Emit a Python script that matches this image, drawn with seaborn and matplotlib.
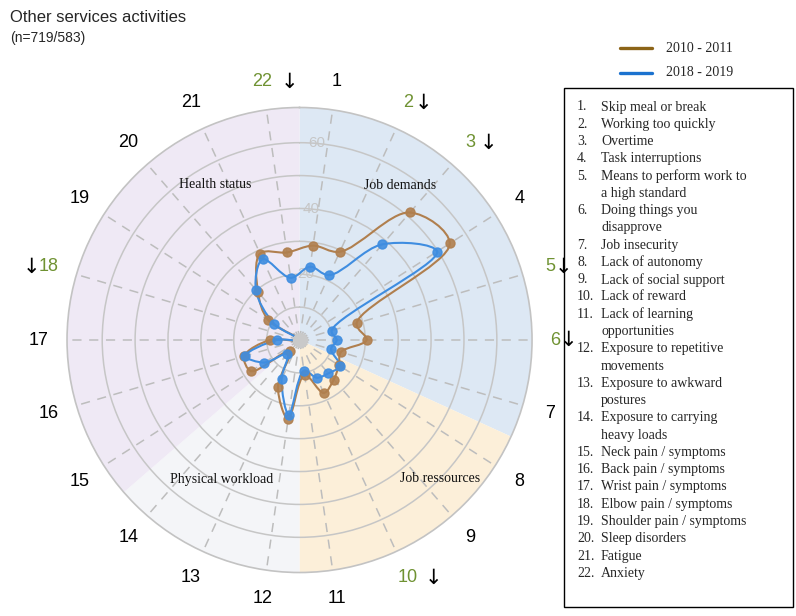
import textwrap
import numpy as np
import pandas as pd
import matplotlib.pyplot as plt
import seaborn as sns
from matplotlib.path import Path
from matplotlib.patches import PathPatch, Rectangle
from matplotlib.lines import Line2D

# ── data ─────────────────────────────────────────────────────
categories = [str(i) for i in range(1, 23)]
wave_2010 = [29.0, 29.5, 51.3, 54.3, 18.1, 20.4, 13.1, 14.2, 15.9, 17.7, 10.8,
             24.3, 15.8, 4.6, 17.5, 17.5, 9.0, 0.0, 11.4, 19.3, 28.9, 26.9]
wave_2018 = [22.5, 21.7, 38.5, 49.7, 10.2, 11.3, 10.0, 14.6, 13.4, 12.6, 9.4,
             23.0, 13.2, 5.7, 12.7, 17.2, 6.9, 0.0, 9.2, 20.3, 27.0, 19.1]
periods = ["2010 - 2011", "2018 - 2019"]
flagged = ["22", "2", "3", "5", "6", "10", "18"]   # significant decrease
item_names = ["Skip meal or break", "Working too quickly", "Overtime",
              "Task interruptions", "Means to perform work to a high standard",
              "Doing things you disapprove", "Job insecurity", "Lack of autonomy",
              "Lack of social support", "Lack of reward",
              "Lack of learning opportunities", "Exposure to repetitive movements",
              "Exposure to awkward postures", "Exposure to carrying heavy loads",
              "Neck pain / symptoms", "Back pain / symptoms", "Wrist pain / symptoms",
              "Elbow pain / symptoms", "Shoulder pain / symptoms", "Sleep disorders",
              "Fatigue", "Anxiety"]
groups = ["Job demands", "Job ressources", "Physical workload", "Health status"]
group_sizes = [7, 4, 3, 8]
rticks = [20, 40, 60]

# ── style ────────────────────────────────────────────────────
RMAX = 70.7
line_cols = {"2010 - 2011": "#b07f4e", "2018 - 2019": "#3f8de0"}
legend_cols = {"2010 - 2011": "#8c6418", "2018 - 2019": "#1b72cf"}
sector_cols = ["#dde8f4", "#fcefd9", "#f4f5f8", "#efe9f5"]
group_pos = {"Job demands": (33, 56.1), "Health status": (331.4, 53.7),
             "Job ressources": (134.5, 59.9), "Physical workload": (209, 48.6)}
# pixel offsets of the green number and of the arrow from the label spot
num_dx = {"6": -5}
arrow_dx = {"22": 27, "2": 15, "3": 18, "5": 13, "6": 8, "10": 25, "18": -18}
GREEN = "#6f9232"
LABEL_R = 79.4

sns.set_theme(style="white")
plt.rcParams["font.family"] = ["Liberation Sans", "DejaVu Sans"]
SERIF = ["Liberation Serif", "DejaVu Serif"]

n = len(categories)
step = 2 * np.pi / n
theta = (np.arange(n) + 0.5) * step

fig = plt.figure(figsize=(7.96, 6.16), dpi=100)
ax = fig.add_axes([0.0842, 0.0706, 0.5842, 0.7549], projection="polar")
ax.set_theta_zero_location("N")
ax.set_theta_direction(-1)
ax.set_ylim(0, RMAX)
ax.set_facecolor("white")
ax.set_axisbelow(True)

# background sectors
start = 0
for g, size, col in zip(groups, group_sizes, sector_cols):
    ax.bar(start * step, RMAX, width=size * step, bottom=0, align="edge",
           color=col, edgecolor="none", zorder=0)
    start += size

ax.set_xticks(theta)
ax.set_xticklabels([])
ax.set_yticks([10, 20, 30, 40, 50, 60])
ax.set_yticklabels([])
ax.xaxis.grid(True, color="#bdbdbd", linestyle=(0, (6, 5)), linewidth=1.1)
ax.yaxis.grid(True, color="#c6c6c6", linestyle="-", linewidth=1.1)
ax.spines["polar"].set_color("#c3c3c3")
ax.spines["polar"].set_linewidth(1.2)


def smooth_closed(th, r, smoothness=1.0):
    # closed spline like plotly's line shape "spline"
    pts = np.column_stack([r * np.sin(th), r * np.cos(th)])
    m = len(pts)
    tan = []
    for i in range(m):
        cur, d1, d2 = pts[i], pts[i - 1] - pts[i], pts[(i + 1) % m] - pts[i]
        a1, a2 = np.hypot(*d1) ** 0.5, np.hypot(*d2) ** 0.5
        num = (a2 * a2 * d1 - a1 * a1 * d2) * smoothness
        den1, den2 = 3 * a2 * (a1 + a2), 3 * a1 * (a1 + a2)
        tan.append((cur + (num / den1 if den1 else 0),
                    cur - (num / den2 if den2 else 0)))
    verts = [pts[0]]
    for i in range(m):
        j = (i + 1) % m
        verts += [tan[i][1], tan[j][0], pts[j]]
    verts = np.array(verts)
    polar = np.column_stack([np.arctan2(verts[:, 0], verts[:, 1]),
                             np.hypot(verts[:, 0], verts[:, 1])])
    codes = [Path.MOVETO] + [Path.CURVE4] * (3 * m)
    return Path(polar, codes)


df = pd.DataFrame({"theta": np.tile(theta, 2),
                   "value": wave_2010 + wave_2018,
                   "period": np.repeat(periods, n)})

for p in periods:
    sub = df[df["period"] == p]
    ax.add_patch(PathPatch(smooth_closed(sub["theta"].values, sub["value"].values),
                           facecolor="none", edgecolor=line_cols[p], lw=1.5, zorder=3))
    sns.scatterplot(data=sub, x="theta", y="value", color=line_cols[p], s=42,
                    edgecolor=line_cols[p], linewidth=1.0, alpha=0.9,
                    ax=ax, legend=False, zorder=4)

ax.scatter([0], [0], s=100, color="#c9c9c9", zorder=6)
ax.set_xlabel("")
ax.set_ylabel("")
ax.set_ylim(0, RMAX)

# radial tick labels
for v in rticks:
    ax.text(np.deg2rad(5), v, str(v), color="#c6c6c6", fontsize=11,
            ha="center", va="center", zorder=2)

# category labels
for c, t in zip(categories, theta):
    if c in flagged:
        ax.annotate(c, xy=(t, LABEL_R), xytext=(num_dx.get(c, 0) * 0.72, 0),
                    textcoords="offset points", color=GREEN, fontsize=13,
                    ha="center", va="center", annotation_clip=False)
        ax.annotate("\u2193", xy=(t, LABEL_R), xytext=(arrow_dx[c] * 0.72, 0),
                    textcoords="offset points", color="black", fontsize=15,
                    family=["DejaVu Sans"], ha="center", va="center",
                    annotation_clip=False)
    else:
        ax.text(t, LABEL_R, c, color="black", fontsize=13, ha="center", va="center",
                clip_on=False)

# group labels
for g in groups:
    ang, rr = group_pos[g]
    ax.text(np.deg2rad(ang), rr, g, family=SERIF, fontsize=10, ha="center",
            va="center", color="#111111", zorder=5)

# titles
W, H = 796, 616
fig.text(10 / W, 1 - 22 / H, "Other services activities", fontsize=12,
         ha="left", va="baseline")
fig.text(10 / W, 1 - 42 / H, "(n=719/583)", fontsize=10, ha="left", va="baseline")

# period legend
for p, yy in zip(periods, [48, 73]):
    fig.add_artist(Line2D([620 / W, 652 / W], [1 - yy / H, 1 - yy / H],
                          color=legend_cols[p], lw=2.4, transform=fig.transFigure))
    fig.text(666 / W, 1 - yy / H, p, family=SERIF, fontsize=10, ha="left",
             va="center")

# item list
fig.add_artist(Rectangle((564 / W, 1 - 607 / H), (793 - 564) / W, (607 - 88) / H,
                         transform=fig.transFigure, fill=False, edgecolor="black",
                         lw=1.0))
yy = 107
for i, name in enumerate(item_names, start=1):
    fig.text(577 / W, 1 - yy / H, f"{i}.", family=SERIF, fontsize=10,
             ha="left", va="center")
    for line in textwrap.wrap(name, 25):
        fig.text(601 / W, 1 - yy / H, line, family=SERIF, fontsize=10,
                 ha="left", va="center")
        yy += 17.27

fig.savefig("out.png", dpi=100)
